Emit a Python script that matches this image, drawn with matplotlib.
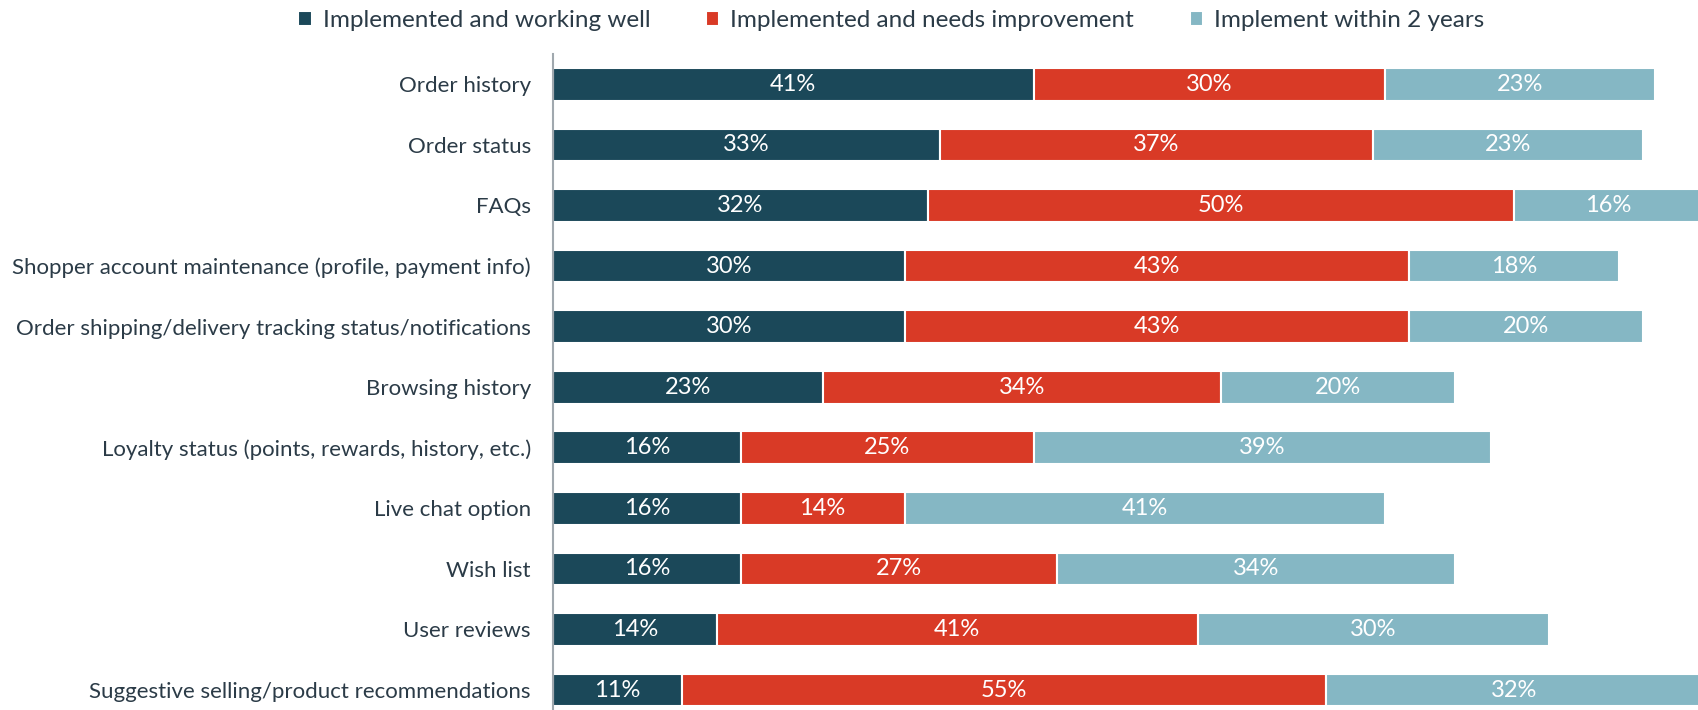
import matplotlib
matplotlib.use("Agg")
import matplotlib.pyplot as plt
import numpy as np

categories = [
    "Order history",
    "Order status",
    "FAQs",
    "Shopper account maintenance (profile, payment info)",
    "Order shipping/delivery tracking status/notifications",
    "Browsing history",
    "Loyalty status (points, rewards, history, etc.)",
    "Live chat option",
    "Wish list",
    "User reviews",
    "Suggestive selling/product recommendations",
]
working_well = [41, 33, 32, 30, 30, 23, 16, 16, 16, 14, 11]
needs_improvement = [30, 37, 50, 43, 43, 34, 25, 14, 27, 41, 55]
within_2_years = [23, 23, 16, 18, 20, 20, 39, 41, 34, 30, 32]
series_names = ["Implemented and working well", "Implemented and needs improvement", "Implement within 2 years"]
colors = ["#1b4859", "#d93a26", "#85b7c4"]

plt.rcParams['font.family'] = ['Lato', 'DejaVu Sans']
text_color = "#2b3b47"

fig = plt.figure(figsize=(16.98, 7.10), dpi=100)
ax = fig.add_axes([553/1698, 0, 1 - 553/1698, 1 - 54/710])

y = np.arange(len(categories))
left = np.zeros(len(categories))
for vals, name, col in zip([working_well, needs_improvement, within_2_years], series_names, colors):
    bars = ax.barh(y, vals, left=left, height=0.54, color=col, edgecolor="white", linewidth=1.5, label=name)
    for b, v in zip(bars, vals):
        ax.text(b.get_x() + b.get_width() / 2, b.get_y() + b.get_height() / 2, f"{v}%",
                ha="center", va="center", color="white", fontsize=17)
    left += np.array(vals)

ax.set_xlim(0, 97.7)
ax.set_ylim(10.33, -0.5)
ax.set_yticks(y)
ax.set_yticklabels(categories, fontsize=16, color=text_color)
ax.tick_params(axis="y", length=0, pad=16)
ax.set_xticks([])
for s in ["top", "right", "bottom"]:
    ax.spines[s].set_visible(False)
ax.spines["left"].set_color("#a0a8ae")
ax.spines["left"].set_linewidth(1.5)

leg = fig.legend(loc="center", bbox_to_anchor=(0.525, 1 - 20.5/710), ncol=3, frameon=False,
                 fontsize=17.5, handlelength=0.55, handleheight=0.55, handletextpad=0.45,
                 columnspacing=2.3)
for t in leg.get_texts():
    t.set_color(text_color)

fig.savefig("out.png", dpi=100)
